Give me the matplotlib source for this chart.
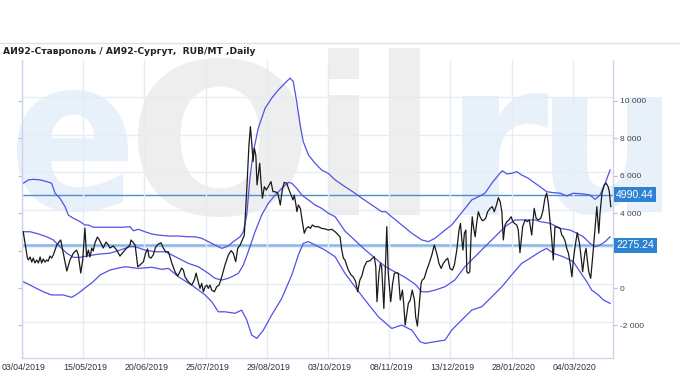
import numpy as np
import matplotlib
matplotlib.use("Agg")
import matplotlib.pyplot as plt
import matplotlib.transforms as mtransforms
from matplotlib.textpath import TextPath
from matplotlib.patches import PathPatch
from matplotlib.font_manager import FontProperties
from matplotlib.ticker import FuncFormatter
from matplotlib.lines import Line2D

# ---- data (x = trading day index from 03/04/2019) ----
title = "АИ92-Ставрополь / АИ92-Сургут,  RUB/MT ,Daily"
tick_days = [0, 25, 50, 75, 100, 125, 150, 175, 200, 225]
tick_labels = ["03/04/2019", "15/05/2019", "20/06/2019", "25/07/2019", "29/08/2019",
               "03/10/2019", "08/11/2019", "13/12/2019", "28/01/2020", "04/03/2020"]

ratio_day = [
    0.5, 2.2, 2.6, 3.3, 4.0, 4.6, 5.3, 6.0, 6.7, 7.4,
    8.0, 8.7, 9.4, 10.1, 10.7, 11.4, 12.1, 12.8, 13.5, 14.2,
    15.8, 18.3, 19.6, 21.0, 22.3, 23.0, 24.0, 24.8, 25.7, 26.4,
    27.1, 27.8, 28.5, 29.1, 29.8, 30.8, 31.6, 32.6, 33.2, 34.3,
    35.3, 35.9, 37.3, 38.7, 40.0, 41.4, 42.8, 44.1, 44.5, 45.5,
    46.2, 47.3, 48.2, 49.6, 50.5, 51.3, 51.9, 52.7, 53.6, 54.6,
    55.7, 56.8, 57.7, 58.7, 59.8, 61.2, 62.5, 63.6, 64.5, 65.2,
    65.9, 66.6, 67.9, 69.3, 70.4, 71.1, 71.8, 72.7, 73.4, 74.1,
    74.8, 75.5, 76.1, 76.8, 77.5, 78.6, 79.5, 80.5, 81.6, 82.9,
    84.3, 85.4, 86.3, 87.3, 88.1, 89.1, 90.0, 90.8, 91.4, 91.9,
    92.7, 93.3, 93.8, 94.4, 94.9, 95.5, 96.0, 96.5, 97.1, 97.6,
    98.2, 99.0, 99.8, 100.6, 101.7, 102.5, 103.4, 104.5, 105.5, 106.3,
    107.1, 108.1, 109.1, 109.9, 110.7, 111.2, 111.8, 112.3, 112.9, 113.7,
    114.5, 115.3, 116.1, 117.0, 117.8, 118.6, 119.7, 121.0, 122.4, 123.8,
    125.1, 126.5, 127.9, 129.2, 129.9, 130.6, 131.3, 131.9, 132.6, 133.3,
    134.4, 135.3, 136.3, 137.1, 138.0, 138.8, 139.8, 140.8, 142.2, 143.1,
    143.9, 144.5, 145.0, 145.8, 146.4, 146.9, 147.8, 148.3, 149.0, 149.6,
    150.6, 151.4, 152.1, 153.1, 153.7, 154.5, 155.4, 155.9, 156.5, 157.2,
    157.8, 158.6, 159.4, 160.3, 160.8, 161.5, 162.2, 163.0, 163.5, 164.3,
    165.3, 166.3, 167.4, 168.4, 169.4, 170.3, 171.2, 172.1, 173.1, 173.9,
    174.8, 175.8, 176.6, 177.6, 178.5, 179.1, 179.6, 180.1, 180.7, 181.3,
    181.7, 182.3, 182.9, 183.4, 183.9, 184.5, 185.1, 185.7, 186.4, 187.1,
    187.8, 188.4, 189.4, 190.2, 191.2, 192.1, 192.9, 193.8, 194.6, 195.3,
    196.0, 196.6, 197.3, 198.1, 198.9, 199.8, 200.5, 201.1, 202.1, 202.7,
    203.4, 204.5, 205.5, 206.4, 207.2, 208.2, 209.2, 210.0, 210.9, 211.9,
    212.7, 213.6, 214.3, 215.0, 215.7, 216.4, 217.0, 217.7, 218.7, 219.8,
    220.5, 221.1, 221.9, 222.5, 223.2, 223.9, 224.6, 225.2, 225.9, 226.8,
    227.7, 228.5, 229.0, 229.9, 230.4, 230.9, 231.5, 232.3, 233.1, 233.9,
    234.8, 235.6, 236.1, 236.9, 237.8, 238.6, 239.4, 239.9, 240.5,
]
ratio_value = [
    3010, 1600, 1500, 1660, 1390, 1600, 1340, 1500, 1340, 1660,
    1340, 1550, 1390, 1500, 1440, 1710, 1600, 1770, 2030, 2300,
    2570, 910, 1500, 1870, 2030, 1770, 800, 1500, 3210, 1660,
    2030, 1660, 2140, 1980, 2410, 2730, 2570, 2300, 2140, 2460,
    2300, 2140, 2250, 2030, 1710, 1930, 2140, 2300, 2570, 2420,
    2300, 1140, 1230, 1410, 1870, 2090, 1660, 1600, 1770, 2190,
    2350, 2420, 2140, 1940, 1940, 1340, 870, 640, 870, 1070,
    960, 590, 340, 160, 430, 800, 430, -20, 250, -200,
    70, 160, -20, 160, -110, -200, 70, 160, 600, 1230,
    1770, 2000, 1860, 1410, 2120, 2300, 2570, 2830, 4280, 5510,
    7650, 8630, 7820, 6760, 7470, 7110, 5510, 6040, 6670, 5690,
    4800, 5420, 5240, 5420, 5690, 5150, 5150, 5070, 4440, 5240,
    5650, 5600, 5240, 4970, 4710, 4970, 4530, 4080, 4440, 4260,
    3550, 2930, 3190, 3280, 3190, 3370, 3280, 3280, 3190, 3160,
    3100, 3140, 3010, 2830, 2740, 2030, 1590, 1500, 1230, 960,
    700, 600, 340, -200, 430, 640, 1140, 1410, 1460, 1590,
    1670, 1140, -730, 790, 1320, 1140, -1090, 600, 3280, 790,
    -730, 250, 790, 820, 790, -640, -110, -820, -1980, -1350,
    -820, -640, -110, -640, -1540, -2030, -1000, 250, 430, 520,
    960, 1320, 1770, 2300, 1860, 1320, 1050, 1320, 1500, 1590,
    1050, 960, 1230, 2030, 3100, 3460, 2660, 2030, 2930, 3100,
    870, 790, 870, 2740, 3810, 3190, 2740, 3460, 4080, 3810,
    3640, 3600, 3730, 4080, 4260, 4350, 4080, 4440, 4830, 4620,
    4080, 2570, 3370, 3550, 3640, 3810, 3550, 3460, 3370, 3100,
    1890, 3280, 3640, 3550, 3640, 2830, 4260, 3730, 3640, 3730,
    4080, 4800, 5070, 4530, 3550, 2570, 1500, 3280, 3250, 3190,
    2830, 2740, 2480, 2120, 1860, 1320, 600, 1500, 2210, 2960,
    2390, 1500, 870, 1860, 2120, 1500, 870, 520, 1670, 2930,
    4350, 2930, 4000, 5070, 5510, 5600, 5420, 5150, 4350,
]

mid_day = [0.5, 3.3, 6.7, 10.1, 12.8, 15.5, 18.3, 21.0, 23.7, 26.4,
           29.1, 31.9, 35.9, 40.0, 44.1, 46.2, 50.2, 54.3, 58.4, 61.2,
           63.9, 67.9, 72.0, 76.1, 78.8, 81.6, 84.3, 86.3, 88.4, 90.4,
           92.4, 95.2, 97.9, 100.6, 103.4, 106.1, 108.8, 110.2, 112.2, 114.3,
           117.0, 119.7, 122.4, 125.1, 127.9, 131.9, 140.1, 148.3, 156.5, 160.6,
           163.3, 166.0, 168.7, 172.8, 176.8, 180.9, 185.0, 189.1, 193.2, 197.3,
           201.4, 205.5, 209.6, 211.6, 215.7, 219.8, 223.9, 226.6, 229.3, 232.0,
           234.1, 236.1, 238.2, 240.2]
mid_value = [3010, 3010, 2890, 2740, 2570, 2210, 1860, 1640, 1640, 1710,
             1770, 1820, 1860, 2030, 2210, 2210, 2030, 1940, 1940, 1770,
             1590, 1320, 1140, 790, 520, 430, 520, 640, 790, 1230,
             1940, 3010, 3900, 4530, 4970, 5330, 5650, 5600, 5330, 4970,
             4710, 4440, 4260, 4000, 3810, 3050, 2050, 1150, 570, 200,
             -200, -200, -110, 70, 430, 1140, 1670, 2210, 2740, 3280,
             3640, 3640, 3640, 3550, 3460, 3190, 3100, 2930, 2740, 2390,
             2210, 2300, 2480, 2740]

upper_day = [0.5, 2.6, 4.6, 7.4, 10.1, 12.1, 13.5, 15.5, 17.6, 18.9,
             21.0, 23.7, 25.7, 27.1, 29.1, 33.2, 37.3, 41.4, 44.1, 45.5,
             47.5, 50.2, 53.0, 55.7, 59.8, 63.9, 67.9, 70.7, 73.4, 76.1,
             78.8, 81.6, 82.9, 84.3, 86.3, 89.1, 90.4, 91.8, 93.1, 94.5,
             96.5, 99.3, 102.0, 104.7, 107.4, 109.5, 110.8, 112.2, 113.6, 114.9,
             117.0, 119.7, 122.4, 125.1, 127.9, 131.9, 136.0, 138.8, 142.9, 146.9,
             148.6, 151.0, 155.1, 159.2, 163.3, 166.0, 168.7, 172.8, 175.5, 178.2,
             181.0, 183.7, 186.4, 189.1, 191.9, 194.6, 196.2, 198.0, 200.0, 202.1,
             204.1, 206.8, 209.6, 211.6, 214.3, 217.0, 219.8, 222.5, 225.2, 229.3,
             232.0, 234.1, 236.1, 238.2, 240.2]
upper_value = [5600, 5780, 5810, 5780, 5690, 5600, 5070, 4800, 4350, 3900,
               3730, 3550, 3370, 3370, 3250, 3250, 3250, 3250, 3280, 3060,
               3140, 3010, 2890, 2830, 2780, 2780, 2740, 2740, 2660, 2480,
               2300, 2120, 2180, 2250, 2480, 2740, 3010, 3900, 5870, 7290,
               8540, 9610, 10150, 10590, 10950, 11220, 11030, 9960, 8720, 7820,
               7110, 6670, 6310, 6130, 5780, 5420, 5070, 4800, 4440, 4080,
               4080, 3810, 3370, 2930, 2570, 2480, 2660, 3100, 3370, 3810,
               4260, 4710, 4880, 5070, 5600, 6040, 6270, 6100, 6130, 6220,
               6040, 5870, 5600, 5420, 5150, 5100, 5070, 4920, 5070, 5030,
               4970, 4740, 4970, 5600, 6310]

lower_day = [0.5, 4.6, 8.7, 12.1, 16.9, 20.3, 23.0, 26.4, 29.1, 31.9,
             35.9, 38.7, 42.1, 47.5, 53.0, 57.1, 59.8, 63.9, 69.3, 74.8,
             77.5, 80.2, 82.9, 87.0, 89.7, 91.8, 93.8, 95.9, 98.6, 102.0,
             106.1, 110.2, 112.9, 114.9, 117.0, 119.7, 123.8, 127.9, 131.9, 136.0,
             140.1, 145.6, 151.0, 155.1, 159.2, 162.6, 164.6, 168.7, 172.8, 175.5,
             179.6, 183.7, 187.8, 191.9, 196.0, 200.0, 204.1, 207.5, 211.6, 214.3,
             217.0, 221.1, 225.2, 227.9, 230.7, 232.7, 235.4, 237.5, 240.2]
lower_value = [340, 70, -200, -370, -370, -500, -280, 70, 340, 700,
               960, 1050, 1140, 1050, 1110, 1000, 1050, 600, 160, -370,
               -730, -1270, -1270, -1350, -1180, -1710, -2510, -2690, -2250, -1440,
               -550, 700, 1770, 2390, 2480, 2300, 2030, 1670, 790, 70,
               -640, -1540, -2160, -1980, -2250, -2870, -2960, -2870, -2780, -2250,
               -1710, -1180, -1000, -470, 70, 700, 1320, 1590, 1940, 2120,
               1860, 1670, 1410, 870, 340, -110, -370, -640, -820]

levels = [4990.44, 2275.24]
y_ticks = [-2000, 0, 2000, 4000, 6000, 8000, 10000]

# ---- figure ----
W, H = 680, 380
fig = plt.figure(figsize=(W / 100, H / 100), dpi=100)
fig.patch.set_facecolor("white")


def watermark(text, box, color):
    # box in pixels from the top-left corner: x0, top, x1, bottom
    x0, top, x1, bottom = box
    path = TextPath((0, 0), text, size=100,
                    prop=FontProperties(family="DejaVu Sans", weight="bold"))
    ext = path.get_extents()
    tr = (mtransforms.Affine2D()
          .translate(-ext.x0, -ext.y0)
          .scale((x1 - x0) / ext.width, (bottom - top) / ext.height)
          .translate(x0, H - bottom))
    fig.add_artist(PathPatch(path, transform=tr, fc=color, ec="none", zorder=-5))


wm_blue, wm_gray = "#e8f0f9", "#eeeeee"
watermark("e", (17, 90, 128, 212), wm_blue)
watermark("O", (138, 58, 302, 217), wm_gray)
watermark("il", (328, 48, 420, 215), wm_gray)
watermark("r", (462, 93, 548, 215), wm_blue)
watermark("u", (552, 97, 662, 215), wm_blue)

fig.text(3 / W, 1 - 52 / H, title, fontsize=6.6, fontweight="bold",
         color="#222222", ha="left", va="center")
fig.add_artist(Line2D([0, 1], [1 - 43 / H] * 2, transform=fig.transFigure,
                      color="#e0e0e0", lw=1))

ax = fig.add_axes([22 / W, 1 - 358 / H, (613 - 22) / W, (358 - 60) / H])
ax.set_facecolor("none")
ax.set_xlim(0, 241.4)
ax.set_ylim(-3740, 12190)

for v in np.arange(12190 - 2000, -3740, -2000):
    ax.axhline(v, color="#e4ecf5", lw=1, zorder=0)
ax.set_xticks(tick_days)
ax.set_xticklabels(tick_labels)
ax.grid(axis="x", color="#e4ecf5", lw=1, zorder=0)

# the 2 000 label sits under the 2275.24 marker in the reference
ax.set_yticks(y_ticks)
ax.yaxis.set_major_formatter(
    FuncFormatter(lambda v, p: "" if v == 2000 else f"{int(v):,}".replace(",", " ")))
ax.tick_params(axis="y", left=True, right=True, labelleft=False, labelright=True,
               length=3, color="#b8c0c8", labelsize=6, labelcolor="#444444", pad=2)
ax.tick_params(axis="x", length=0, pad=3.5, labelsize=6.3, labelcolor="#333333")
for lab in ax.get_yticklabels():
    lab.set_fontfamily("Liberation Sans")
shift = mtransforms.ScaledTranslation(2 / 100, 0, fig.dpi_scale_trans)
for lab in ax.get_xticklabels():
    lab.set_fontfamily("Liberation Sans")
    lab.set_transform(lab.get_transform() + shift)

ax.spines["top"].set_visible(False)
for s in ["left", "right", "bottom"]:
    ax.spines[s].set_color("#ccd6eb")
    ax.spines[s].set_linewidth(1)

band_color = "#5252e4"
ax.plot(upper_day, upper_value, color=band_color, lw=0.9, zorder=2)
ax.plot(mid_day, mid_value, color=band_color, lw=0.9, zorder=2)
ax.plot(lower_day, lower_value, color=band_color, lw=0.9, zorder=2)
ax.plot(ratio_day, ratio_value, color="#1a1a1a", lw=0.9, zorder=3)

ax.axhline(levels[0], color="#4a8fd4", lw=1, zorder=1.5)
ax.axhline(levels[1], color="#86b6e6", lw=1.8, zorder=1.5)
for v in levels:
    ax.annotate(f"{v:.2f}", xy=(1, v), xycoords=ax.get_yaxis_transform(),
                xytext=(2.3, 0), textcoords="offset points", ha="left", va="center",
                fontsize=7.5, family="Liberation Sans", color="white",
                bbox=dict(boxstyle="square,pad=0.25", fc="#2d82d2", ec="none"),
                annotation_clip=False, zorder=5)

fig.savefig("out.png", dpi=100)
